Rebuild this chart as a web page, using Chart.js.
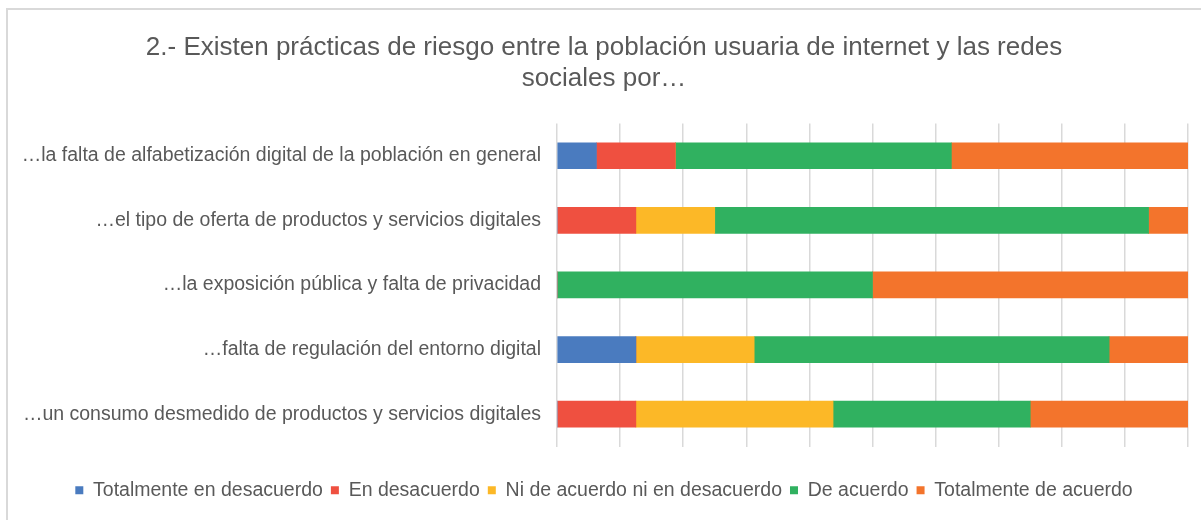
<!DOCTYPE html>
<html>
<head>
<meta charset="utf-8">
<script src="https://cdn.jsdelivr.net/npm/chart.js@4"></script>
<style>
  body { margin: 0; background: #fff; }
  #frame { position: absolute; left: 6px; top: 8px; width: 1240px; height: 560px; border: 2px solid #d9d9d9; box-sizing: border-box; }
  #chart { position: absolute; left: 0; top: 0; }
</style>
</head>
<body>
<div id="frame"></div>
<canvas id="chart" width="1201" height="520"></canvas>
<script>
const categories = [
    "…la falta de alfabetización digital de la población en general",
    "…el tipo de oferta de productos y servicios digitales",
    "…la exposición pública y falta de privacidad",
    "…falta de regulación del entorno digital",
    "…un consumo desmedido de productos y servicios digitales"
];
const totalmenteDesacuerdo = [6.25, 0, 0, 12.5, 0];
const enDesacuerdo = [12.5, 12.5, 0, 0, 12.5];
const niAcuerdoNiDesacuerdo = [0, 12.5, 0, 18.75, 31.25];
const deAcuerdo = [43.75, 68.75, 50, 56.25, 31.25];
const totalmenteAcuerdo = [37.5, 6.25, 50, 12.5, 25];
const seriesNames = ["Totalmente en desacuerdo", "En desacuerdo", "Ni de acuerdo ni en desacuerdo", "De acuerdo", "Totalmente de acuerdo"];
const xTicks = [0, 10, 20, 30, 40, 50, 60, 70, 80, 90, 100];

const colors = ["#4a7bbf", "#ef5040", "#fcb827", "#30b160", "#f3742c"];
const values = [totalmenteDesacuerdo, enDesacuerdo, niAcuerdoNiDesacuerdo, deAcuerdo, totalmenteAcuerdo];
const textColor = "#595959";
const font = "'Liberation Sans', Arial, sans-serif";

new Chart(document.getElementById("chart"), {
    type: "bar",
    data: {
        labels: categories,
        datasets: seriesNames.map((name, i) => ({
            label: name,
            data: values[i],
            backgroundColor: colors[i],
            borderWidth: 0,
            barThickness: 26
        }))
    },
    options: {
        indexAxis: "y",
        responsive: false,
        animation: false,
        devicePixelRatio: 1,
        layout: { padding: { left: 20, right: 13, top: 0, bottom: 10 } },
        scales: {
            x: {
                stacked: true,
                min: 0,
                max: 100,
                afterBuildTicks(scale) { scale.ticks = xTicks.map(v => ({ value: v })); },
                afterFit(scale) { scale.height = 26; },
                ticks: { display: false },
                grid: { color: "#d9d9d9", lineWidth: 1.5, drawTicks: false },
                border: { display: false }
            },
            y: {
                stacked: true,
                afterFit(scale) { scale.width = 537; },
                ticks: { color: textColor, font: { family: font, size: 19.5 }, padding: 16 },
                grid: { display: false, drawTicks: false },
                border: { display: false }
            }
        },
        plugins: {
            title: {
                display: true,
                text: ["2.- Existen prácticas de riesgo entre la población usuaria de internet y las redes", "sociales por…"],
                color: textColor,
                font: { family: font, size: 26, weight: "normal", lineHeight: 1.2 },
                padding: { top: 32, bottom: 29 }
            },
            legend: {
                position: "bottom",
                labels: {
                    color: textColor,
                    font: { family: font, size: 19.5 },
                    boxWidth: 8,
                    boxHeight: 8,
                    padding: 8
                }
            },
            tooltip: { enabled: false }
        }
    }
});
</script>
</body>
</html>
